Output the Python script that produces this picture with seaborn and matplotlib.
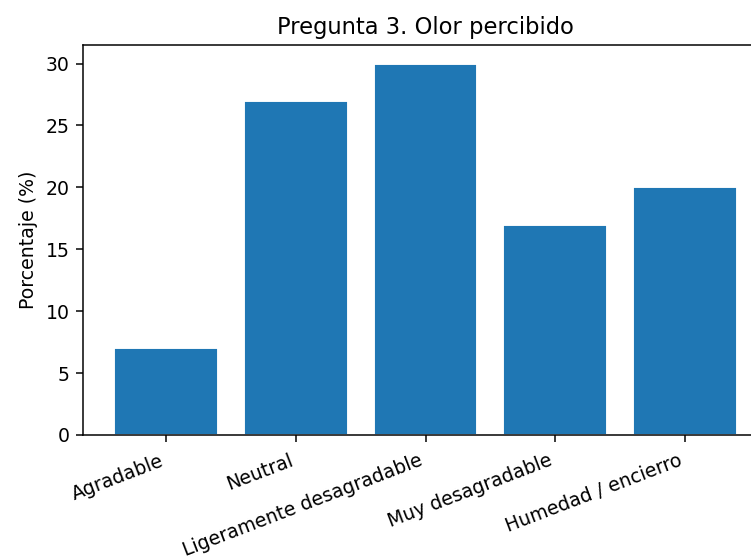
import matplotlib
matplotlib.use('Agg')
import matplotlib.pyplot as plt
import seaborn as sns
import pandas as pd

# Datos
categorias = ['Agradable', 'Neutral', 'Ligeramente desagradable', 'Muy desagradable', 'Humedad / encierro']
porcentajes = [7, 27, 30, 17, 20]

df = pd.DataFrame({'Olor': categorias, 'Porcentaje': porcentajes})

sns.set_style('ticks', {'text.color': 'black', 'axes.labelcolor': 'black',
                        'xtick.color': 'black', 'ytick.color': 'black',
                        'axes.edgecolor': 'black'})
plt.rcParams['font.family'] = ['DejaVu Sans']

dpi = 136
fig = plt.figure(figsize=(751 / dpi, 558 / dpi), dpi=dpi)
ax = fig.add_axes([83 / 751, 1 - 435 / 558, 685 / 751, 390 / 558])

sns.barplot(x='Olor', y='Porcentaje', data=df, color='#1f77b4', saturation=1,
            width=0.8, ax=ax)
ax.set_xlim(-0.64, 4.64)
ax.set_ylim(0, 31.5)
ax.set_title('Pregunta 3. Olor percibido')
ax.set_xlabel('')
ax.set_ylabel('Porcentaje (%)')
plt.xticks(rotation=21, ha='right')
ax.tick_params(axis='x', pad=5)
for s in ax.spines.values():
    s.set_linewidth(0.8)

fig.savefig('out.png', dpi=dpi)
